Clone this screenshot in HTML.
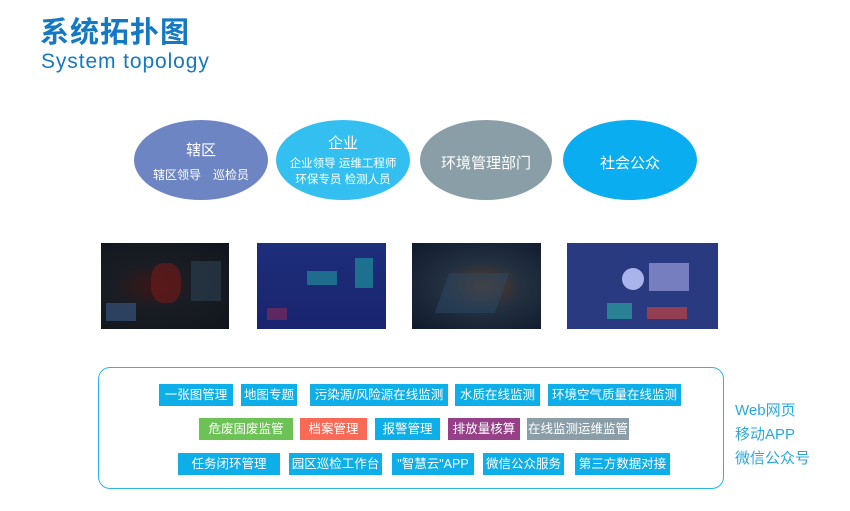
<!DOCTYPE html>
<html><head><meta charset="utf-8"><style>
body{margin:0;width:850px;height:511px;background:#fff;position:relative;overflow:hidden;font-family:"Liberation Sans","Noto Sans CJK SC",sans-serif}
.a{position:absolute}
.t{position:absolute;color:#fff;font-size:12.5px;text-align:center;line-height:22px;height:22px;white-space:nowrap}
.b{background:#0eaee9}
.scr{position:absolute;top:243px;height:86px;overflow:hidden}
</style></head><body>
<div class="a" style="left:40px;top:12px;font-size:29px;font-weight:bold;color:#1479c4;letter-spacing:1px;font-family:'Noto Sans CJK SC',sans-serif;line-height:36px">系统拓扑图</div>
<div class="a" style="left:41px;top:49px;font-size:21px;color:#1479c4;letter-spacing:0.9px;line-height:26px">System topology</div>

<svg class="a" style="left:0;top:0" width="850" height="240">
<ellipse cx="201" cy="160" rx="67" ry="40" fill="#6e85c4"/>
<ellipse cx="343" cy="160" rx="67" ry="40" fill="#33c0f0"/>
<ellipse cx="486" cy="160" rx="66" ry="40" fill="#8a9ea8"/>
<ellipse cx="630" cy="160" rx="67" ry="40" fill="#0aaef0"/>
<g fill="#fff" font-family="Liberation Sans,Noto Sans CJK SC,sans-serif" text-anchor="middle">
<text x="201" y="155" font-size="15">辖区</text>
<text x="201" y="179" font-size="12">辖区领导　巡检员</text>
<text x="343" y="148" font-size="15">企业</text>
<text x="343" y="167" font-size="11.5">企业领导 运维工程师</text>
<text x="343" y="183" font-size="11.5">环保专员 检测人员</text>
<text x="486" y="168" font-size="15">环境管理部门</text>
<text x="630" y="168" font-size="15">社会公众</text>
</g></svg>

<div class="scr" style="left:101px;width:128px;background:radial-gradient(ellipse at 40% 50%,#3a1616 0,#1a1d24 35%,#10151c 100%)">
<div class="a" style="left:50px;top:20px;width:30px;height:40px;background:#6a1a1a;border-radius:40%;opacity:.7"></div>
<div class="a" style="left:5px;top:60px;width:30px;height:18px;background:#3a5c88;opacity:.6"></div>
<div class="a" style="left:90px;top:18px;width:30px;height:40px;background:#2a3a4a;opacity:.7"></div></div>
<div class="scr" style="left:257px;width:129px;background:linear-gradient(#1d2e7a,#1a2470)">
<div class="a" style="left:50px;top:28px;width:30px;height:14px;background:#1f8a9a;opacity:.7"></div>
<div class="a" style="left:98px;top:15px;width:18px;height:30px;background:#1ea0a0;opacity:.6"></div>
<div class="a" style="left:10px;top:65px;width:20px;height:12px;background:#7a2a5a;opacity:.7"></div></div>
<div class="scr" style="left:412px;width:129px;background:radial-gradient(ellipse at 55% 50%,#5a3a2a 0,#233040 40%,#0f1a2c 100%)">
<div class="a" style="left:30px;top:30px;width:60px;height:40px;background:#2a4a66;opacity:.5;transform:skew(-20deg)"></div></div>
<div class="scr" style="left:567px;width:151px;background:#2a3a80">
<div class="a" style="left:55px;top:25px;width:22px;height:22px;background:#a8b4ea;border-radius:50%"></div>
<div class="a" style="left:82px;top:20px;width:40px;height:28px;background:#8a90d0;opacity:.8"></div>
<div class="a" style="left:40px;top:60px;width:25px;height:16px;background:#2aa0a0;opacity:.7"></div>
<div class="a" style="left:80px;top:64px;width:40px;height:12px;background:#c04040;opacity:.7"></div></div>

<div class="a" style="left:98px;top:367px;width:624px;height:120px;border:1.5px solid #29b4ea;border-radius:12px"></div>

<div class="t b" style="left:159px;top:384px;width:74px">一张图管理</div>
<div class="t b" style="left:241px;top:384px;width:56px">地图专题</div>
<div class="t b" style="left:310px;top:384px;width:138px">污染源/风险源在线监测</div>
<div class="t b" style="left:455px;top:384px;width:85px">水质在线监测</div>
<div class="t b" style="left:548px;top:384px;width:133px">环境空气质量在线监测</div>

<div class="t" style="left:199px;top:418px;width:94px;background:#6cc254">危废固废监管</div>
<div class="t" style="left:300px;top:418px;width:67px;background:#fc6a55">档案管理</div>
<div class="t b" style="left:375px;top:418px;width:65px">报警管理</div>
<div class="t" style="left:448px;top:418px;width:72px;background:#973f88">排放量核算</div>
<div class="t" style="left:527px;top:418px;width:102px;background:#8b9ea8">在线监测运维监管</div>

<div class="t b" style="left:178px;top:453px;width:102px">任务闭环管理</div>
<div class="t b" style="left:289px;top:453px;width:93px">园区巡检工作台</div>
<div class="t b" style="left:392px;top:453px;width:82px">"智慧云"APP</div>
<div class="t b" style="left:483px;top:453px;width:81px">微信公众服务</div>
<div class="t b" style="left:575px;top:453px;width:95px">第三方数据对接</div>

<div class="a" style="left:735px;top:399px;color:#29a8e0;font-size:15px;line-height:24px">Web网页<br>移动APP<br>微信公众号</div>
</body></html>
